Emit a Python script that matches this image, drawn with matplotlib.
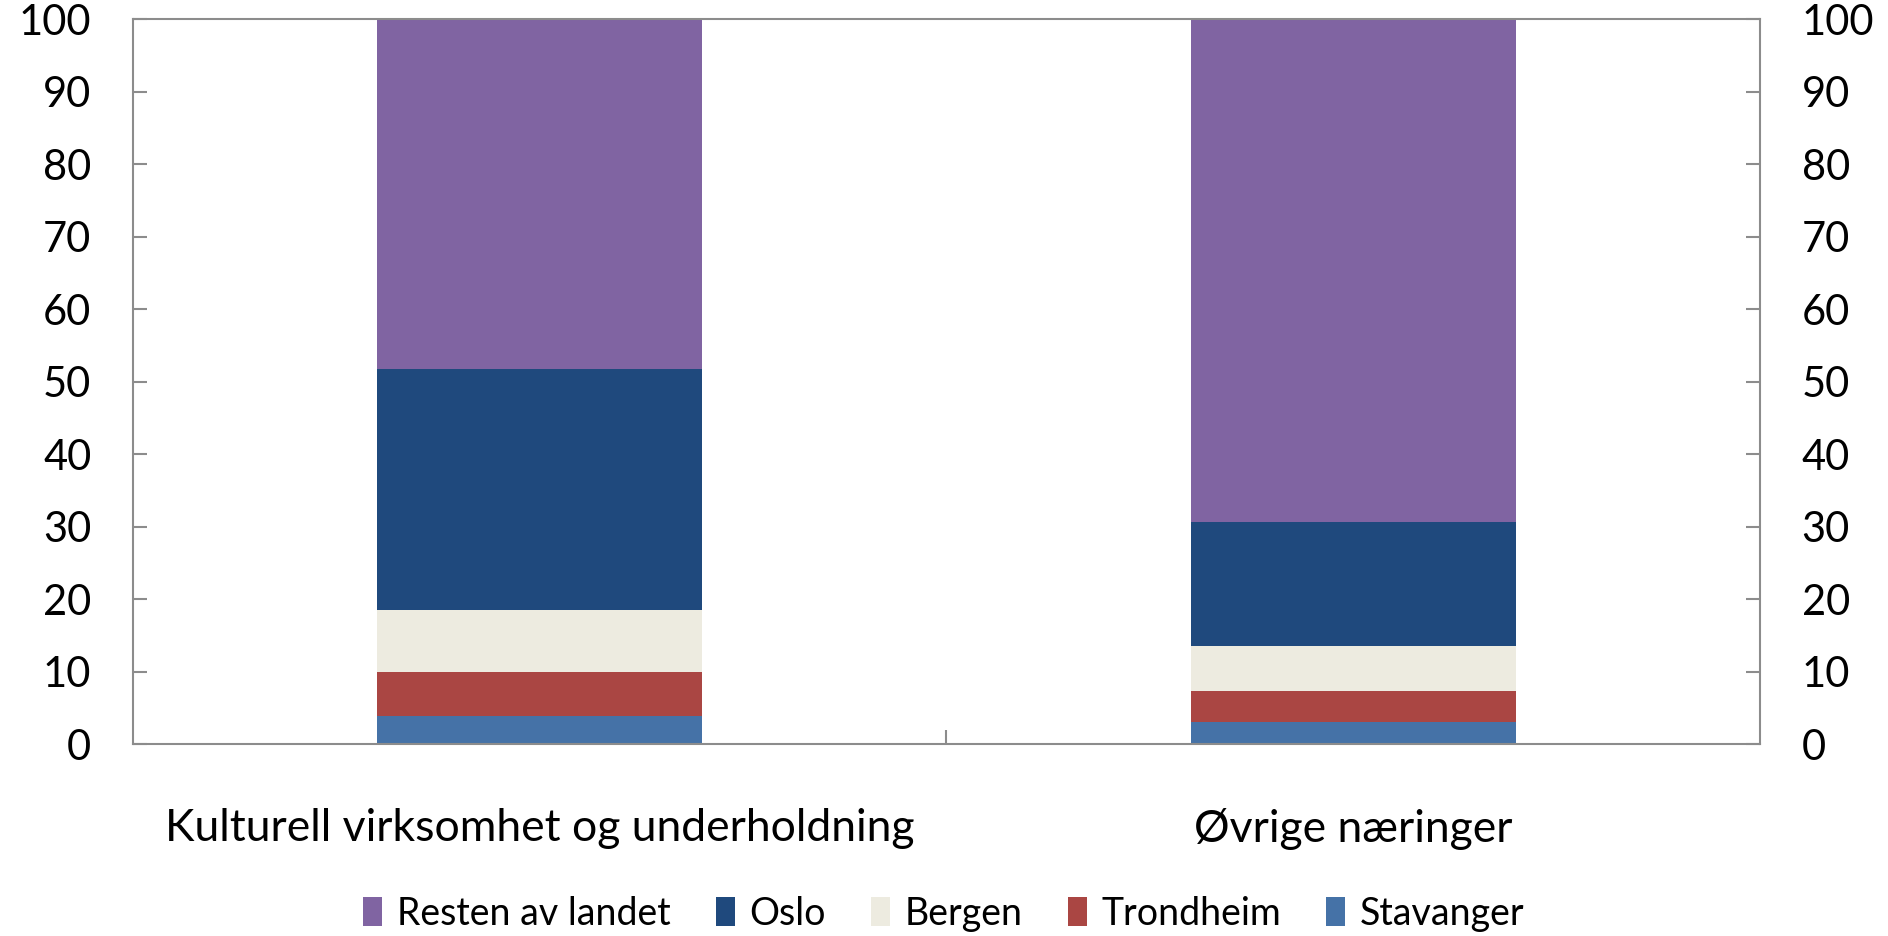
import matplotlib
matplotlib.use("Agg")
import matplotlib.pyplot as plt
import numpy as np

# andel sysselsatte, prosent
categories = ["Kulturell virksomhet og underholdning", "Øvrige næringer"]
series_names = ["Stavanger", "Trondheim", "Bergen", "Oslo", "Resten av landet"]
stavanger = [3.9, 3.0]
trondheim = [6.0, 4.3]
bergen = [8.6, 6.2]
oslo = [33.2, 17.1]
resten = [48.3, 69.4]
colors = ["#4572A7", "#AA4643", "#EDEBE0", "#1F497D", "#8064A2"]
yticks = list(range(0, 101, 10))

plt.rcParams['font.family'] = ['Lato', 'DejaVu Sans']

fig = plt.figure(figsize=(18.88, 9.36), dpi=100)
ax = fig.add_axes([0.0704, 0.205, 0.8618, 0.7745])

x = np.arange(len(categories))
bottom = np.zeros(len(categories))
bars = []
for name, vals, c in zip(series_names, [stavanger, trondheim, bergen, oslo, resten], colors):
    b = ax.bar(x, vals, width=0.4, bottom=bottom, color=c, label=name, zorder=2)
    bars.append(b)
    bottom += np.array(vals)

ax.set_xlim(-0.5, 1.5)
ax.set_ylim(0, 100)

# y axis on both sides
ax.set_yticks(yticks)
ax.tick_params(axis='y', which='both', direction='in', length=10, width=1.5,
               color='#8c8c8c', labelsize=30, pad=30, left=True, right=True,
               labelleft=True, labelright=True)

ax.set_xticks(x)
ax.set_xticklabels(categories, fontsize=32)
ax.set_xticks([0.5], minor=True)
ax.tick_params(axis='x', which='major', length=0, pad=46)
ax.tick_params(axis='x', which='minor', direction='in', length=10, width=1.5, color='#8c8c8c')

for s in ax.spines.values():
    s.set_color('#8c8c8c')
    s.set_linewidth(1.5)

handles = bars[::-1]
labels = series_names[::-1]
fig.legend(handles, labels, loc='center', bbox_to_anchor=(0.5, 0.024), ncol=5,
           frameon=False, fontsize=27, handlelength=0.5, handleheight=0.8,
           handletextpad=0.4, columnspacing=1.2)

fig.savefig("out.png", dpi=100)
